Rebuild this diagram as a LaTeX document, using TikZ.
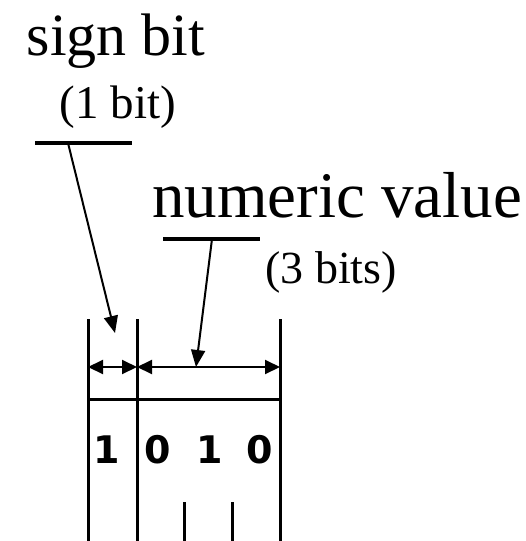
\documentclass[tikz,border=0pt]{standalone}
\usepackage{fontspec}
\setmainfont{Liberation Serif}
\newfontfamily\bitfont{DejaVu Sans}
\usetikzlibrary{arrows.meta}

\begin{document}
\begin{tikzpicture}[x=1pt, y=-1pt,
    heading/.style={anchor=base, inner sep=0pt, font=\fontsize{60}{60}\selectfont},
    sizenote/.style={anchor=base, inner sep=0pt, font=\fontsize{47}{47}\selectfont},
    bitval/.style={anchor=base, inner sep=0pt, font=\bitfont\bfseries\fontsize{38}{38}\selectfont},
    wall/.style={line width=3pt},
    rule/.style={line width=3.5pt},
    dim/.style={line width=2pt, {Triangle[length=15pt, width=14pt]}-{Triangle[length=15pt, width=14pt]}},
    pointer/.style={line width=2pt, -{Triangle[length=17pt, width=14pt]}}
  ]
    \useasboundingbox (0,0) rectangle (525,541);

    % labels
    \node[heading] (sign) at (116,55) {sign bit};
    \node[sizenote] (signsize) at (118,118) {(1 bit)};
    \node[heading, font=\fontsize{65}{65}\selectfont] (num) at (337,217) {numeric value};
    \node[sizenote, font=\fontsize{46}{46}\selectfont] (numsize) at (331,283) {(3 bits)};

    % field boundaries
    \foreach \x/\n in {88/left,137/mid,280/right} {
      \coordinate (\n top) at (\x,319);
      \coordinate (\n bot) at (\x,541);
      \draw[wall] (\n top) -- (\n bot);
    }
    \foreach \x/\n in {184/tickA,232/tickB} {
      \coordinate (\n top) at (\x,502);
      \coordinate (\n bot) at (\x,541);
      \draw[wall] (\n top) -- (\n bot);
    }
    \coordinate (rowL) at (88,399);
    \coordinate (rowR) at (280,399);
    \draw[wall] (rowL) -- (rowR);

    % widths
    \coordinate (dimL) at (88,367);
    \coordinate (dimM) at (137,367);
    \coordinate (dimR) at (280,367);
    \draw[dim] (dimL) -- (dimM);
    \draw[dim] (dimM) -- (dimR);

    % pointers
    \coordinate (signL) at (35,143);
    \coordinate (signR) at (132,143);
    \coordinate (signfoot) at (68,143);
    \coordinate (signtip) at (115,333);
    \draw[rule] (signL) -- (signR);
    \draw[pointer] (signfoot) -- (signtip);

    \coordinate (numL) at (163,239);
    \coordinate (numR) at (260,239);
    \coordinate (numfoot) at (212,239);
    \coordinate (numtip) at (196,367);
    \draw[rule] (numL) -- (numR);
    \draw[pointer] (numfoot) -- (numtip);

    % bits
    \foreach \x/\v [count=\i] in {107/1,158/0,210/1,260/0} {
      \node[bitval] (bit\i) at (\x,463) {\v};
    }
\end{tikzpicture}
\end{document}
